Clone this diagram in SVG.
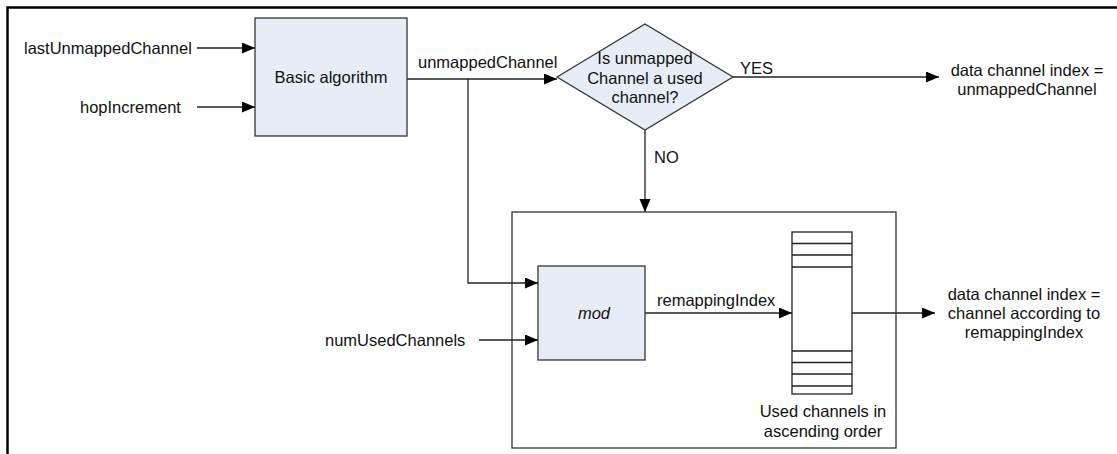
<svg xmlns="http://www.w3.org/2000/svg" width="1117" height="454" viewBox="0 0 1117 454">
<style>
text{font-family:"Liberation Sans",Arial,sans-serif;font-size:16.5px;fill:#111}
.m{text-anchor:middle}
.box{fill:#e7edf7;stroke:#333;stroke-width:1.3}
.ln{fill:none;stroke:#222;stroke-width:1.3}
.frame{fill:none;stroke:#000;stroke-width:2.5}
</style>
<defs>
<marker id="ah" markerUnits="userSpaceOnUse" markerWidth="14" markerHeight="12" refX="13" refY="5.5" orient="auto">
<path d="M0,0 L13,5.5 L0,11 Z" fill="#000"/>
</marker>
</defs>
<path class="frame" d="M7.5,454 V7.5 H1117"/>
<g id="connectors">
<path class="ln" d="M197,48 H255" marker-end="url(#ah)"/>
<path class="ln" d="M197,107 H255" marker-end="url(#ah)"/>
<path class="ln" d="M407,79 H557" marker-end="url(#ah)"/>
<path class="ln" d="M468,79 V283 H538" marker-end="url(#ah)"/>
<path class="ln" d="M733,77 H939" marker-end="url(#ah)"/>
<path class="ln" d="M645,130 V212" marker-end="url(#ah)"/>
<path class="ln" d="M479,340 H538" marker-end="url(#ah)"/>
<path class="ln" d="M645,313 H792" marker-end="url(#ah)"/>
<path class="ln" d="M852,313 H935" marker-end="url(#ah)"/>
</g>
<g id="inputs">
<text x="24" y="54">lastUnmappedChannel</text>
<text x="80" y="113">hopIncrement</text>
<text x="325" y="346">numUsedChannels</text>
</g>
<g id="basic">
<rect class="box" x="255" y="18" width="152" height="118"/>
<text class="m" x="331" y="83">Basic algorithm</text>
</g>
<text id="lbl-unmapped" x="418" y="68">unmappedChannel</text>
<g id="decision">
<path class="box" d="M557,77 L645,24 L733,77 L645,130 Z"/>
<text class="m" x="645" y="64">Is unmapped</text>
<text class="m" x="645" y="84">Channel a used</text>
<text class="m" x="645" y="103">channel?</text>
</g>
<text id="lbl-yes" x="740" y="74">YES</text>
<text id="lbl-no" x="654" y="163">NO</text>
<g id="out1">
<text class="m" x="1027" y="76">data channel index =</text>
<text class="m" x="1027" y="95">unmappedChannel</text>
</g>
<g id="remap-block">
<rect class="ln" x="512" y="212" width="384" height="236" style="stroke:#333"/>
</g>
<g id="mod">
<rect class="box" x="538" y="266" width="107" height="94"/>
<text class="m" x="594" y="319" font-style="italic">mod</text>
</g>
<text id="lbl-remap" x="657" y="306">remappingIndex</text>
<g id="table">
<rect x="792" y="232" width="60" height="162" fill="#fff" stroke="#222" stroke-width="1.3"/>
<path class="ln" d="M792,243.5 H852 M792,255 H852 M792,267 H852 M792,351 H852 M792,362.5 H852 M792,374 H852 M792,386 H852"/>
<text class="m" x="823" y="417">Used channels in</text>
<text class="m" x="823" y="437">ascending order</text>
</g>
<g id="out2">
<text class="m" x="1024" y="300">data channel index =</text>
<text class="m" x="1024" y="319">channel according to</text>
<text class="m" x="1024" y="338">remappingIndex</text>
</g>
</svg>
